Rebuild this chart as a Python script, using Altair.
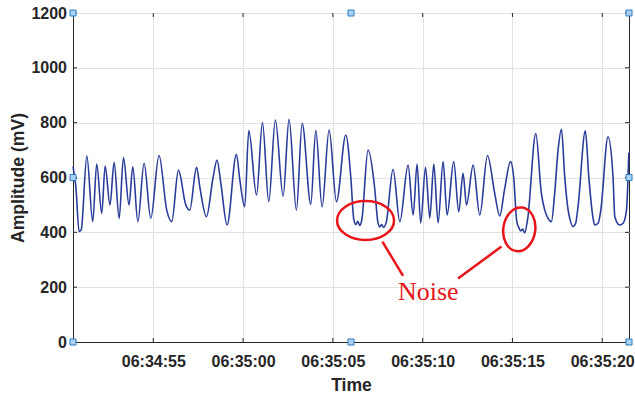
import math
import altair as alt
import pandas as pd

# ---------------- data (seconds after 06:34:50, amplitude in mV) ----------------
t_sec = [0.53, 0.69, 0.87, 0.99, 1.30, 1.63, 1.85, 2.13, 2.32, 2.59, 2.82, 3.10, 3.34, 3.65,
         3.86, 4.14, 4.49, 4.86, 5.32, 5.75, 6.03, 6.40, 6.81, 7.03, 7.41, 7.59, 7.96, 8.33,
         8.55, 8.76, 9.11, 9.63, 9.82, 10.09, 10.32, 10.75, 11.08, 11.43, 11.80, 12.23, 12.56,
         12.97, 13.29, 13.77, 14.05, 14.40, 14.79, 15.20, 15.72, 16.00, 16.16, 16.28, 16.39,
         16.50, 16.61, 16.96, 17.33, 17.50, 17.61, 17.72, 17.83, 17.98, 18.35, 18.73, 19.19,
         19.47, 19.69, 19.89, 20.16, 20.40, 20.62, 20.86, 21.14, 21.36, 21.73, 22.01, 22.25,
         22.44, 22.81, 23.18, 23.61, 24.01, 24.29, 24.57, 24.89, 25.07, 25.24, 25.35, 25.46,
         25.57, 25.68, 25.85, 26.30, 26.61, 26.80, 26.98, 27.17, 27.35, 27.54, 27.73, 27.91,
         28.10, 28.19, 28.37, 28.52, 28.65, 29.06, 29.25, 29.49, 29.58, 29.77, 29.92, 30.32,
         30.60, 30.70, 30.97, 31.16, 31.35, 31.48]
amp_mv = [640, 566, 403, 410, 678, 439, 649, 469, 642, 500, 655, 451, 673, 500,
          639, 439, 652, 451, 680, 481, 439, 627, 500, 481, 637, 566, 457, 600,
          664, 580, 427, 685, 591, 493, 771, 536, 800, 512, 810, 532, 812,
          481, 798, 502, 771, 493, 773, 512, 755, 600, 450, 428, 440,
          425, 445, 700, 560, 440, 420, 428, 418, 439, 630, 439, 645,
          463, 649, 434, 637, 452, 649, 435, 658, 463, 658, 475, 615,
          500, 645, 463, 680, 543, 460, 560, 658, 600, 440, 418, 405,
          412, 398, 450, 760, 542, 481, 451, 439, 542, 700, 776, 603,
          481, 451, 421, 433, 493, 770, 603, 451, 427, 433, 481, 748,
          603, 457, 427, 433, 481, 690]

x_tick_sec = [5, 10, 15, 20, 25, 30]          # 06:34:55 ... 06:35:20
y_ticks = [0, 200, 400, 600, 800, 1000, 1200]
x_range_sec = [0.53, 31.49]

# annotation
ell_sec = [16.82, 25.38]
ell_amp = [443, 411]
call_sec = [17.76, 24.39]
call_amp = [366, 348]
call_sec2 = [18.91, 21.97]
call_amp2 = [241, 232]
note_sec = [20.31]
note_amp = [153]
note_text = ["Noise"]

# selection handles
hx_sec = [0.53, 16.01, 31.49, 0.53, 31.49, 0.53, 16.01, 31.49]
hy_amp = [0, 0, 0, 600, 600, 1200, 1200, 1200]

BASE = pd.Timestamp("2020-01-01 06:34:50")


def ts(s):
    return (BASE + pd.to_timedelta(s, unit="s")).strftime("%Y-%m-%dT%H:%M:%S.%f")[:-3]


def dt(s):
    total = 50 + s
    whole = math.floor(total)
    ms = int(round((total - whole) * 1000))
    return alt.DateTime(year=2020, month=1, date=1, hours=6,
                        minutes=34 + whole // 60, seconds=whole % 60, milliseconds=ms)


sig = pd.DataFrame({"time": [ts(s) for s in t_sec], "amp": amp_mv})
xt = pd.DataFrame({"time": [ts(s) for s in x_tick_sec]})
yt = pd.DataFrame({"amp": y_ticks})
handles = pd.DataFrame({"time": [ts(s) for s in hx_sec], "amp": hy_amp})
ell1 = pd.DataFrame({"time": [ts(ell_sec[0])], "amp": [ell_amp[0]]})
ell2 = pd.DataFrame({"time": [ts(ell_sec[1])], "amp": [ell_amp[1]]})
calls = pd.DataFrame({"time": [ts(s) for s in call_sec], "amp": call_amp,
                      "time2": [ts(s) for s in call_sec2], "amp2": call_amp2})
note = pd.DataFrame({"time": [ts(s) for s in note_sec], "amp": note_amp, "label": note_text})

INK = "#262626"
RED = "#e8151b"
FONT = "Liberation Sans"

xscale = alt.Scale(domain=[dt(x_range_sec[0]), dt(x_range_sec[1])])
yscale = alt.Scale(domain=[0, 1200])

x_axis = alt.Axis(values=[dt(s) for s in x_tick_sec], format="%H:%M:%S", title="Time",
                  grid=True, ticks=False, tickSize=0, labelFlush=False, labelOverlap=False,
                  labelBaseline="alphabetic", labelPadding=24,
                  titleBaseline="alphabetic", titleY=48, titleFontSize=17.6)
y_axis = alt.Axis(values=y_ticks, format="d", title="Amplitude (mV)", grid=True, ticks=False,
                  tickSize=0, labelPadding=6.5, titleAngle=270, titleX=-50, titleY=164.5,
                  titleAlign="center", titleBaseline="alphabetic", titleFontSize=17.6)

line = alt.Chart(sig).mark_line(color="#2a3d9a", strokeWidth=1.6, interpolate="monotone").encode(
    x=alt.X("time:T", scale=xscale, axis=x_axis),
    y=alt.Y("amp:Q", scale=yscale, axis=y_axis),
)

xt_bottom = alt.Chart(xt).mark_rule(color=INK, strokeWidth=1).encode(
    x=alt.X("time:T", scale=xscale), y=alt.value(329), y2=alt.value(325))
xt_top = alt.Chart(xt).mark_rule(color=INK, strokeWidth=1).encode(
    x=alt.X("time:T", scale=xscale), y=alt.value(0), y2=alt.value(4))
yt_left = alt.Chart(yt).mark_rule(color=INK, strokeWidth=1).encode(
    y=alt.Y("amp:Q", scale=yscale), x=alt.value(0), x2=alt.value(4))
yt_right = alt.Chart(yt).mark_rule(color=INK, strokeWidth=1).encode(
    y=alt.Y("amp:Q", scale=yscale), x=alt.value(556), x2=alt.value(552))

E1 = ("M -1 0 C -1 -0.378 -0.552 -0.684 0 -0.684 C 0.552 -0.684 1 -0.378 1 0 "
      "C 1 0.378 0.552 0.684 0 0.684 C -0.552 0.684 -1 0.378 -1 0 Z")
E2 = ("M -0.727 0 C -0.727 -0.552 -0.401 -1 0 -1 C 0.401 -1 0.727 -0.552 0.727 0 "
      "C 0.727 0.552 0.401 1 0 1 C -0.401 1 -0.727 0.552 -0.727 0 Z")

e1 = alt.Chart(ell1).mark_point(shape=E1, size=3249, filled=False, stroke=RED,
                                strokeWidth=2.5, opacity=1).encode(
    x=alt.X("time:T", scale=xscale), y=alt.Y("amp:Q", scale=yscale))
e2 = alt.Chart(ell2).mark_point(shape=E2, size=1936, filled=False, stroke=RED,
                                strokeWidth=2.5, opacity=1, angle=8).encode(
    x=alt.X("time:T", scale=xscale), y=alt.Y("amp:Q", scale=yscale))

callouts = alt.Chart(calls).mark_rule(color=RED, strokeWidth=2.5).encode(
    x=alt.X("time:T", scale=xscale), y=alt.Y("amp:Q", scale=yscale),
    x2="time2:T", y2="amp2:Q")

label = alt.Chart(note).mark_text(font="Liberation Serif", fontSize=26, color=RED,
                                  align="center", baseline="alphabetic").encode(
    x=alt.X("time:T", scale=xscale), y=alt.Y("amp:Q", scale=yscale), text="label:N")

hdl = alt.Chart(handles).mark_square(size=36, fill="#a9d3f3", stroke="#2f7dc0",
                                     strokeWidth=1, opacity=1).encode(
    x=alt.X("time:T", scale=xscale), y=alt.Y("amp:Q", scale=yscale))

chart = alt.layer(line, xt_bottom, xt_top, yt_left, yt_right, e1, e2, callouts, label, hdl).properties(
    width=556, height=329,
    padding={"left": 73, "top": 13, "right": 6, "bottom": 52},
    autosize=alt.AutoSizeParams(type="none"),
    background="white",
).configure_view(stroke=INK, strokeWidth=1).configure_axis(
    labelFont=FONT, labelFontSize=16, labelFontWeight="bold", labelColor=INK,
    titleFont=FONT, titleFontWeight="bold", titleColor=INK,
    domainColor=INK, domainWidth=1, gridColor="#e2e2e2", gridWidth=1,
)

chart.save("out.html", embed_options={"renderer": "svg", "actions": False})
